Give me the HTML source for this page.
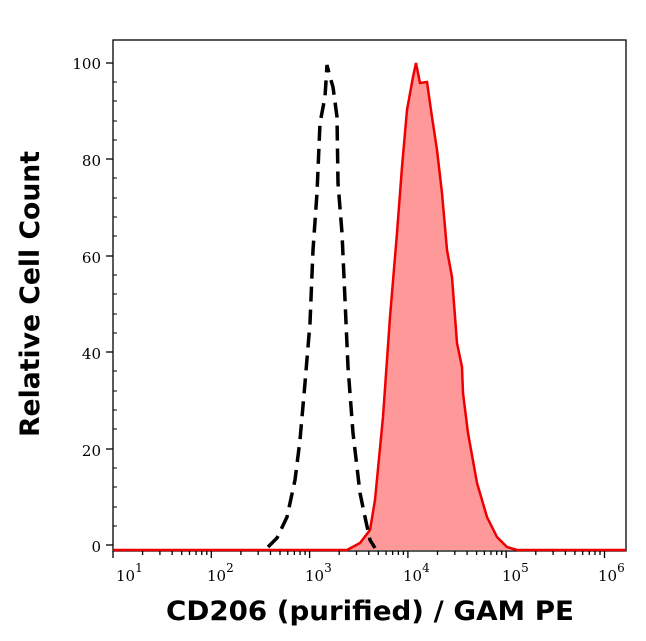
<!DOCTYPE html>
<html><head><meta charset="utf-8"><style>
html,body{margin:0;padding:0;background:#fff;width:646px;height:641px;overflow:hidden}
svg{display:block}
.t{font-family:"DejaVu Serif","Liberation Serif",serif;font-size:15px;fill:#000}
.s{font-size:12px}
.ti{font-family:"DejaVu Sans","Liberation Sans",sans-serif;font-weight:bold;font-size:27px;fill:#000}
</style></head><body>
<svg width="646" height="641" viewBox="0 0 646 641" xmlns="http://www.w3.org/2000/svg">
<rect x="113" y="40" width="513" height="511" fill="none" stroke="#000" stroke-width="1.3"/>
<polygon fill="#ff9999" stroke="none" points="347,550 360,543 370,530 375,500 383,417 390,317 397,233 402,167 407,110 413,77 416,63 420,83 427,82 432,117 437,150 442,193 447,250 452,277 457,343 462,367 463,393 468,433 477,483 487,517 497,537 507,547 517,550"/>
<polyline fill="none" stroke="#ee0000" stroke-width="2.5" points="113,550 347,550 360,543 370,530 375,500 383,417 390,317 397,233 402,167 407,110 413,77 416,63 420,83 427,82 432,117 437,150 442,193 447,250 452,277 457,343 462,367 463,393 468,433 477,483 487,517 497,537 507,547 517,550 626,550"/>
<polyline fill="none" stroke="#000" stroke-width="3.5" stroke-dasharray="15,8" points="268,547 277,538 287,517 295,480 300,440 305,383 310,323 313,250 317,193 320,123 325,97 327,65 330,77 333,87 337,117 338,183 342,233 345,300 348,367 353,433 360,493 365,517 370,540 375,548"/>
<g stroke="#000" stroke-width="1.3">
<line x1="106" y1="63" x2="113" y2="63"/><line x1="106" y1="159" x2="113" y2="159"/><line x1="106" y1="256" x2="113" y2="256"/><line x1="106" y1="352" x2="113" y2="352"/><line x1="106" y1="449" x2="113" y2="449"/><line x1="106" y1="545" x2="113" y2="545"/>
</g>
<g stroke="#000" stroke-width="1">
<line x1="113" y1="82" x2="117" y2="82"/><line x1="113" y1="101" x2="117" y2="101"/><line x1="113" y1="121" x2="117" y2="121"/><line x1="113" y1="140" x2="117" y2="140"/>
<line x1="113" y1="178" x2="117" y2="178"/><line x1="113" y1="198" x2="117" y2="198"/><line x1="113" y1="217" x2="117" y2="217"/><line x1="113" y1="236" x2="117" y2="236"/>
<line x1="113" y1="275" x2="117" y2="275"/><line x1="113" y1="294" x2="117" y2="294"/><line x1="113" y1="314" x2="117" y2="314"/><line x1="113" y1="333" x2="117" y2="333"/>
<line x1="113" y1="371" x2="117" y2="371"/><line x1="113" y1="391" x2="117" y2="391"/><line x1="113" y1="410" x2="117" y2="410"/><line x1="113" y1="429" x2="117" y2="429"/>
<line x1="113" y1="468" x2="117" y2="468"/><line x1="113" y1="487" x2="117" y2="487"/><line x1="113" y1="507" x2="117" y2="507"/><line x1="113" y1="526" x2="117" y2="526"/>
</g>
<g class="t" text-anchor="end">
<text x="101" y="69">100</text><text x="101" y="166">80</text><text x="101" y="263">60</text><text x="101" y="359">40</text><text x="101" y="456">20</text><text x="101" y="552">0</text>
</g>
<g stroke="#000" stroke-width="1.3" id="xt"></g>
<script>
var g=document.getElementById('xt'),ns='http://www.w3.org/2000/svg';
var x0=113,d=98.3;
for(var k=0;k<6;k++){for(var m=1;m<10;m++){var x=x0+d*(k+Math.log10(m));if(x>626)break;var l=document.createElementNS(ns,'line');
l.setAttribute('x1',x);l.setAttribute('x2',x);l.setAttribute('y1',551);l.setAttribute('y2',m==1?558:555);g.appendChild(l);}}
</script>
<g class="t">
<text x="116" y="581">10<tspan class="s" dy="-9">1</tspan></text>
<text x="207" y="581">10<tspan class="s" dy="-9">2</tspan></text>
<text x="305" y="581">10<tspan class="s" dy="-9">3</tspan></text>
<text x="403" y="581">10<tspan class="s" dy="-9">4</tspan></text>
<text x="502" y="581">10<tspan class="s" dy="-9">5</tspan></text>
<text x="598" y="581">10<tspan class="s" dy="-9">6</tspan></text>
</g>
<text class="ti" x="370" y="620" text-anchor="middle" textLength="408" lengthAdjust="spacingAndGlyphs">CD206 (purified) / GAM PE</text>
<text class="ti" transform="translate(39,294) rotate(-90)" text-anchor="middle" textLength="286" lengthAdjust="spacingAndGlyphs">Relative Cell Count</text>
</svg>
</body></html>
